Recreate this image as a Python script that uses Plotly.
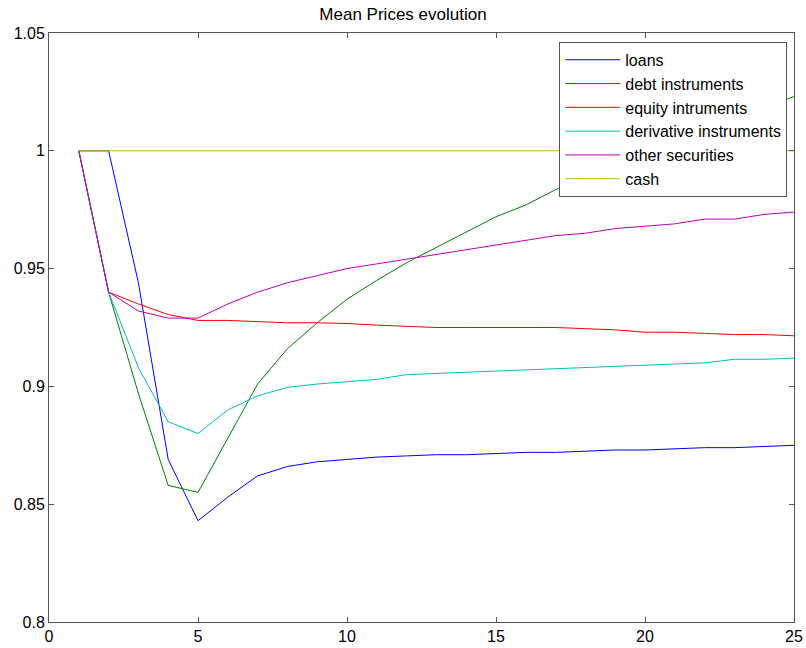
import plotly.graph_objects as go

# Simulation periods
periods = list(range(1, 26))

# Mean price of each asset class per period
loans = [1.0, 1.0, 0.944, 0.869, 0.843, 0.853, 0.862, 0.866, 0.868, 0.869,
         0.870, 0.8705, 0.871, 0.871, 0.8715, 0.872, 0.872, 0.8725, 0.873, 0.873,
         0.8735, 0.874, 0.874, 0.8745, 0.875]
debt_instruments = [1.0, 0.94, 0.897, 0.858, 0.855, 0.878, 0.901, 0.916, 0.927, 0.937,
                    0.945, 0.9525, 0.959, 0.9655, 0.972, 0.977, 0.9835, 0.989, 0.994, 0.999,
                    1.004, 1.009, 1.014, 1.0185, 1.023]
equity_intruments = [1.0, 0.94, 0.935, 0.9305, 0.928, 0.928, 0.9275, 0.927, 0.927, 0.9267,
                     0.926, 0.9255, 0.925, 0.925, 0.925, 0.925, 0.925, 0.9245, 0.924, 0.923,
                     0.923, 0.9225, 0.922, 0.922, 0.9215]
derivative_instruments = [1.0, 0.94, 0.908, 0.885, 0.880, 0.890, 0.896, 0.8996, 0.901, 0.902,
                          0.903, 0.905, 0.9055, 0.906, 0.9065, 0.907, 0.9075, 0.908, 0.9085, 0.909,
                          0.9095, 0.910, 0.9115, 0.9115, 0.912]
other_securities = [1.0, 0.94, 0.932, 0.929, 0.929, 0.935, 0.940, 0.944, 0.947, 0.950,
                    0.952, 0.954, 0.956, 0.958, 0.960, 0.962, 0.964, 0.965, 0.967, 0.968,
                    0.969, 0.971, 0.971, 0.973, 0.974]
cash = [1.0] * 25

series = [
    ("loans", loans, "rgb(0,0,255)"),
    ("debt instruments", debt_instruments, "rgb(0,128,0)"),
    ("equity intruments", equity_intruments, "rgb(255,0,0)"),
    ("derivative instruments", derivative_instruments, "rgb(0,191,191)"),
    ("other securities", other_securities, "rgb(191,0,191)"),
    ("cash", cash, "rgb(191,191,0)"),
]

x_ticks = [0, 5, 10, 15, 20, 25]
y_ticks = [0.8, 0.85, 0.9, 0.95, 1.0, 1.05]
y_tick_text = ["0.8", "0.85", "0.9", "0.95", "1", "1.05"]

fig = go.Figure()
for name, values, color in series:
    fig.add_trace(go.Scatter(
        x=periods, y=values, name=name, mode="lines",
        line=dict(color=color, width=1),
    ))

font_family = "Liberation Sans, Arial, sans-serif"

fig.update_layout(
    width=806, height=648,
    margin=dict(l=49, r=12, t=33, b=26),
    paper_bgcolor="white", plot_bgcolor="white",
    font=dict(family=font_family, size=16, color="black"),
    title=dict(text="Mean Prices evolution", x=0.5, xanchor="center",
               y=1 - 14 / 648, yanchor="middle",
               font=dict(family=font_family, size=17, color="black")),
    showlegend=True,
    legend=dict(
        x=0.991, y=0.985, xanchor="right", yanchor="top",
        bgcolor="white", bordercolor="#555555", borderwidth=1,
        font=dict(family=font_family, size=16, color="black"),
        itemwidth=55, tracegroupgap=0,
    ),
)
fig.update_xaxes(
    range=[0, 25], tickvals=x_ticks, ticks="inside", ticklen=5,
    tickcolor="#555555", showline=True, linecolor="#555555", linewidth=1,
    mirror="ticks", showgrid=False, zeroline=False, automargin=False,
)
fig.update_yaxes(
    range=[0.8, 1.05], tickvals=y_ticks, ticktext=y_tick_text, ticks="inside",
    ticklen=5, tickcolor="#555555", showline=True, linecolor="#555555",
    linewidth=1, mirror="ticks", showgrid=False, zeroline=False, automargin=False,
)

fig.write_html("out.html")
